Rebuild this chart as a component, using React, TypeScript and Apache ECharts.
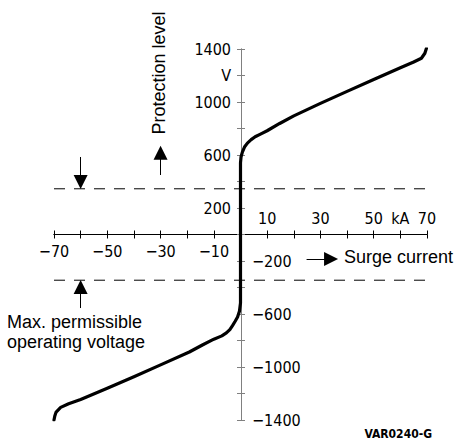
import React, { useEffect, useRef } from "react";
import * as echarts from "echarts";

// Characteristic curve (current in kA, voltage in V)
const currentKA = [
  -70, -69.7, -69.2, -67.5, -64.5, -60, -50, -40, -30, -19.2, -14.3, -10, -7, -5.3, -4, -3, -2, -1.1, -0.4, 0,
  0, 0, 0.2, 0.7, 1.5, 2.6, 4, 5.5, 7.5, 10, 14.7, 20, 30, 40, 50, 60, 65, 67.9, 69.2, 69.8,
];
const voltageV = [
  -1400, -1370, -1340, -1305, -1278, -1245, -1160, -1073, -984, -887, -834, -790, -765, -743, -718, -688, -655, -623, -580, -517,
  0, 540, 585, 622, 660, 690, 716, 738, 758, 783, 838, 895, 990, 1080, 1170, 1258, 1302, 1330, 1368, 1406,
];

// Max. permissible operating voltage (dashed level, ±)
const maxOperatingVoltage = 345;

// Axis ranges
const xRange = [-70, 70];
const yRange = [-1400, 1400];

// Tick labels
const xBelowValues = [-70, -50, -30, -10];
const xAboveValues = [10, 30, 50, 60, 70];
const xAboveTexts = ["10", "30", "50", "kA", "70"];
const yLeftValues = [1400, 1200, 1000, 600, 200];
const yLeftTexts = ["1400", "V", "1000", "600", "200"];
const yRightValues = [-200, -600, -1000, -1400];

// Annotation arrows [x1, y1, x2, y2] in data units
const arrowProtection = [-30, 449, -30, 617];
const arrowMaxOpUpper = [-60, 585, -60, 396];
const arrowMaxOpLower = [-60, -555, -60, -396];
const arrowSurge = [24.8, -185, 34.0, -185];

const numFont = "'DejaVu Sans Condensed', 'DejaVu Sans', sans-serif";
const textFont = "'Liberation Sans', Arial, sans-serif";

const fmtMinus = (v: number) => (v < 0 ? "\u2212" + Math.abs(v) : String(v));

// layout (pixels)
const W = 456;
const H = 443;
const G = { left: 54, right: 29, top: 49, bottom: 23 };
const zeroX = 241; // pixel where current = 0
const zeroY = 234.5; // pixel where voltage = 0

export default function App() {
  const ref = useRef<HTMLDivElement>(null);
  useEffect(() => {
    if (!ref.current) return;
    const chart = echarts.init(ref.current, null, { renderer: "svg" });
    const curve = currentKA.map((x, i) => [x, voltageV[i]]);

    const labelBase = { color: "#000", fontSize: 16, fontFamily: numFont };
    const hiddenX = (gridIndex: number) => ({
      type: "value" as const,
      gridIndex,
      min: xRange[0],
      max: xRange[1],
      show: false,
      splitLine: { show: false },
    });
    const hiddenY = (gridIndex: number) => ({
      type: "value" as const,
      gridIndex,
      min: yRange[0],
      max: yRange[1],
      show: false,
      splitLine: { show: false },
    });
    const visX = (gridIndex: number, position: "top" | "bottom", labelAxis: any) => ({
      type: "value" as const,
      gridIndex,
      position,
      min: xRange[0],
      max: xRange[1],
      interval: 10,
      splitLine: { show: false },
      axisLine: { show: true, onZero: false, lineStyle: { color: "#000", width: 1 } },
      axisTick: { show: true, inside: false, length: 4, lineStyle: { color: "#000", width: 1 } },
      axisLabel: labelAxis,
    });
    const visY = (gridIndex: number, position: "left" | "right", labelAxis: any) => ({
      type: "value" as const,
      gridIndex,
      position,
      min: yRange[0],
      max: yRange[1],
      interval: 200,
      splitLine: { show: false },
      axisLine: { show: true, onZero: false, lineStyle: { color: "#808080", width: 1 } },
      axisTick: { show: true, inside: false, length: 4, lineStyle: { color: "#808080", width: 1 } },
      axisLabel: labelAxis,
    });

    const arrowData = [arrowProtection, arrowMaxOpUpper, arrowMaxOpLower, arrowSurge].map((a) => ({
      coords: [
        [a[0], a[1]],
        [a[2], a[3]],
      ],
    }));

    const gridBase = { containLabel: false, outerBoundsMode: "none" };

    chart.setOption({
      animation: false,
      backgroundColor: "#fff",
      grid: [
        { ...gridBase, ...G }, // 0: data
        { ...gridBase, left: G.left, right: W - zeroX, top: G.top, bottom: G.bottom }, // 1: left half
        { ...gridBase, left: zeroX, right: G.right, top: G.top, bottom: G.bottom }, // 2: right half
        { ...gridBase, left: G.left, right: G.right, top: G.top, bottom: H - zeroY }, // 3: upper half
        { ...gridBase, left: G.left, right: G.right, top: zeroY, bottom: G.bottom }, // 4: lower half
      ],
      xAxis: [
        hiddenX(0),
        hiddenX(1),
        hiddenX(2),
        visX(3, "bottom", {
          ...labelBase,
          margin: 9,
          formatter: (v: number) => (xBelowValues.includes(v) ? fmtMinus(v) : ""),
        }),
        visX(4, "top", {
          ...labelBase,
          margin: 8,
          formatter: (v: number) => {
            const i = xAboveValues.indexOf(v);
            return i >= 0 ? xAboveTexts[i] : "";
          },
        }),
      ],
      yAxis: [
        hiddenY(0),
        visY(1, "right", {
          ...labelBase,
          margin: 11,
          formatter: (v: number) => (yRightValues.includes(v) ? fmtMinus(v) : ""),
        }),
        visY(2, "left", {
          ...labelBase,
          margin: 10,
          formatter: (v: number) => {
            const i = yLeftValues.indexOf(v);
            return i >= 0 ? yLeftTexts[i] : "";
          },
        }),
        hiddenY(3),
        hiddenY(4),
      ],
      series: [
        {
          type: "line",
          xAxisIndex: 0,
          yAxisIndex: 0,
          data: [
            [xRange[0], maxOperatingVoltage],
            [xRange[1], maxOperatingVoltage],
          ],
          showSymbol: false,
          lineStyle: { color: "#000", width: 1, type: [11, 9] },
          silent: true,
        },
        {
          type: "line",
          xAxisIndex: 0,
          yAxisIndex: 0,
          data: [
            [xRange[0], -maxOperatingVoltage],
            [xRange[1], -maxOperatingVoltage],
          ],
          showSymbol: false,
          lineStyle: { color: "#000", width: 1, type: [11, 9] },
          silent: true,
        },
        {
          type: "line",
          xAxisIndex: 0,
          yAxisIndex: 0,
          data: curve,
          showSymbol: false,
          smooth: false,
          lineStyle: { color: "#000", width: 3.2, join: "round", cap: "round" },
          z: 5,
        },
        {
          type: "lines",
          coordinateSystem: "cartesian2d",
          xAxisIndex: 0,
          yAxisIndex: 0,
          data: arrowData,
          symbol: ["none", "triangle"],
          symbolSize: 14,
          lineStyle: { color: "#000", width: 1, curveness: 0, opacity: 1 },
          itemStyle: { color: "#000" },
          z: 6,
        },
      ],
      graphic: [
        {
          type: "text",
          x: 159,
          y: 73,
          rotation: Math.PI / 2,
          style: {
            text: "Protection level",
            fill: "#000",
            font: `18px ${textFont}`,
            textAlign: "center",
            textVerticalAlign: "middle",
          },
        },
        {
          type: "text",
          x: 344,
          y: 257,
          style: {
            text: "Surge current",
            fill: "#000",
            font: `18px ${textFont}`,
            textAlign: "left",
            textVerticalAlign: "middle",
          },
        },
        {
          type: "text",
          x: 7,
          y: 322,
          style: {
            text: "Max. permissible",
            fill: "#000",
            font: `18px ${textFont}`,
            textAlign: "left",
            textVerticalAlign: "middle",
          },
        },
        {
          type: "text",
          x: 7,
          y: 342,
          style: {
            text: "operating voltage",
            fill: "#000",
            font: `18px ${textFont}`,
            textAlign: "left",
            textVerticalAlign: "middle",
          },
        },
        {
          type: "text",
          x: 432,
          y: 434,
          style: {
            text: "VAR0240-G",
            fill: "#000",
            font: `bold 12px ${numFont}`,
            textAlign: "right",
            textVerticalAlign: "middle",
          },
        },
      ],
    });
    return () => chart.dispose();
  }, []);
  return <div ref={ref} style={{ position: "fixed", left: 0, top: 0, width: W, height: H }} />;
}
